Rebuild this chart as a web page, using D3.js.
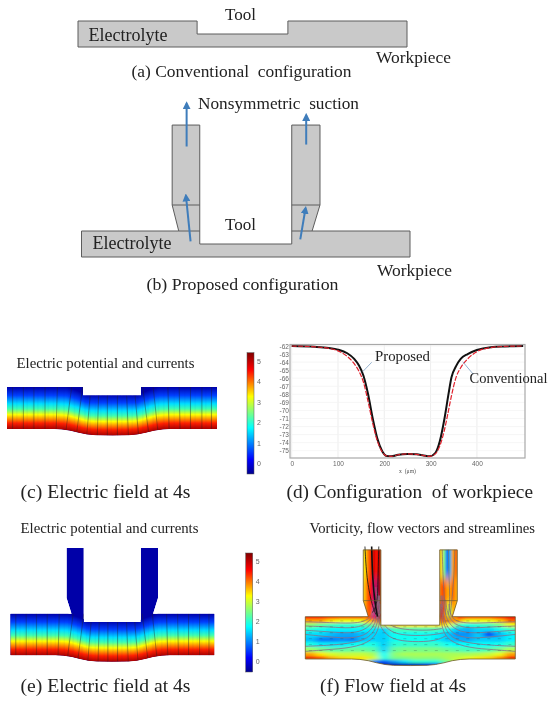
<!DOCTYPE html>
<html>
<head>
<meta charset="utf-8">
<script src="https://cdn.jsdelivr.net/npm/d3@7"></script>
<style>
body { margin: 0; background: #fff; }
svg { display: block; filter: blur(0.35px); }
text { font-family: "Liberation Serif", serif; fill: #222; }
.small text { font-family: "Liberation Sans", sans-serif; fill: #666; }
</style>
</head>
<body>
<svg width="552" height="702"></svg>
<script>
// workpiece profile, panel (d)
var xTicks = [0, 100, 200, 300, 400];
var yTicks = [-62, -63, -64, -65, -66, -67, -68, -69, -70, -71, -72, -73, -74, -75];
var profileX = [0, 50, 80, 100, 120, 135, 145, 155, 165, 175, 185, 195, 205, 215, 230, 250, 270, 285, 298, 310, 320, 330, 338, 345, 355, 365, 380, 400, 430, 460, 500];
var proposedY = [-62, -62.1, -62.25, -62.45, -62.9, -63.6, -64.4, -65.7, -68, -71, -73.5, -75, -75.65, -75.7, -75.5, -75.4, -75.45, -75.6, -75.7, -75.3, -73.8, -71, -68.2, -65.9, -64.5, -63.6, -63, -62.5, -62.15, -62.05, -62];
var conventionalY = [-62, -62.1, -62.3, -62.6, -63.3, -64.2, -65.1, -66.5, -68.9, -71.6, -73.8, -75.1, -75.65, -75.7, -75.5, -75.4, -75.45, -75.6, -75.7, -75.4, -74.4, -72.4, -70.2, -68.2, -65.9, -64.7, -63.6, -62.7, -62.2, -62.05, -62];

// geometry of the cell in um, x along the workpiece, y above the flat workpiece
var conventionalCell = [[0, 0], [0, 40], [181, 40], [181, 20], [319, 20], [319, 40], [500, 40], [500, 0]];
var proposedCell = [[0, 0], [0, 40], [148, 40], [138, 80], [138, 203], [180, 203], [180, 20], [320, 20], [320, 203], [363, 203], [363, 80], [351, 40], [500, 40], [500, 0]];
var proposedSeams = [[[138, 80], [180, 80]], [[148, 40], [180, 40]], [[320, 80], [363, 80]], [[320, 40], [351, 40]]];
var suctionArrows = [[[160, 170], [160, 236]], [[342, 173], [342, 218]], [[166, 24], [159, 94]], [[333, 27], [341, 75]]];

var dipX = [0, 110, 130, 150, 170, 190, 210, 250, 290, 310, 330, 350, 370, 390, 500];
var dipY = [0, 0, -1, -4, -9, -13, -15, -15.5, -15, -13, -9, -4, -1, 0, 0];
var isoTopX = [0, 140, 165, 190, 310, 335, 360, 500];
var isoTopY = [100, 100, 92, 82, 82, 92, 100, 100];
var notchX = [181, 319];
var notchY = 80;
var nozzleTopY = 258;
var nozzleFlareY = 138;
var nozzleX = [138, 180, 320, 362];
var flareFootX = [150, 350];
var currentTopX = [13.5, 39, 64, 90.5, 120, 154, 180, 198, 218, 239, 263, 285, 305, 323, 348, 383, 410, 437, 464, 487];
var currentBottomX = [13.5, 39, 64, 90.5, 117, 140.5, 166, 190, 215, 239, 263, 289, 313, 337, 359, 386, 412, 437, 464, 487];

// colorbar
var potentialTicks = [0, 1, 2, 3, 4, 5];
var potentialDomain = [-0.52, 5.4];
var jetStops = [0, 0.12, 0.38, 0.64, 0.86, 1, 1.1];
var jetColors = ["#00008f", "#0000ff", "#00ffff", "#ffff00", "#ff0000", "#800000", "#ff20c0"];
var fieldStops = [0, 0.2, 0.4, 0.52, 0.66, 0.86, 1];
var fieldColors = ["#0000a8", "#0040ff", "#00e0ff", "#40ffb0", "#ffff00", "#ff2000", "#a80000"];

// vorticity, panel (f): one row per band, twenty columns of 25 um
var vortRowEdges = [106, 95, 85, 75, 64, 52, 40, 28, 16, 6, -2, -10, -18];
var vortColEdges = d3.range(0, 525, 25);
var vorticity = [
    [.85, .85, .82, .8, .8, .8, .85, .92, .7, .7, .7, .7, .7, .92, .85, .8, .8, .8, .85, .88],
    [.72, .72, .66, .62, .62, .62, .65, .85, .68, .68, .68, .68, .68, .85, .72, .62, .62, .62, .68, .78],
    [.52, .47, .44, .42, .42, .44, .47, .6, .68, .66, .66, .66, .66, .62, .44, .4, .42, .44, .5, .62],
    [.42, .39, .37, .37, .37, .37, .36, .33, .45, .45, .45, .45, .45, .39, .32, .3, .34, .34, .39, .44],
    [.35, .34, .31, .29, .29, .32, .34, .33, .39, .39, .39, .39, .37, .33, .27, .27, .33, .18, .31, .37],
    [.32, .25, .25, .27, .25, .32, .34, .33, .39, .39, .39, .39, .37, .33, .3, .29, .33, .33, .33, .37],
    [.4, .36, .36, .36, .38, .4, .4, .33, .42, .43, .43, .43, .43, .39, .38, .38, .38, .38, .39, .43],
    [.54, .5, .47, .47, .48, .48, .46, .34, .48, .5, .5, .5, .5, .48, .46, .44, .44, .46, .5, .56],
    [.72, .66, .6, .58, .58, .58, .55, .38, .52, .55, .55, .55, .55, .55, .55, .55, .56, .58, .62, .72],
    [.88, .82, .72, .68, .66, .66, .6, .4, .5, .5, .52, .52, .52, .55, .58, .62, .66, .68, .75, .88],
    [.66, .66, .66, .66, .66, .6, .25, .2, .28, .35, .42, .42, .42, .5, .6, .66, .66, .66, .66, .66],
    [.6, .6, .6, .6, .6, .45, .06, .04, .04, .04, .04, .08, .15, .38, .55, .6, .6, .6, .6, .6]
];
var nozzleRowEdges = [290, 190, 130, 94];
var leftNozzleEdges = [138, 145, 152, 159, 166, 173, 180];
var rightNozzleEdges = [320, 327, 334, 341, 348, 355, 362];
var leftNozzleVort = [[.66, .75, .82, .92, .85, .95], [.7, .78, .85, 1.05, 1.05, .98], [.72, .78, .8, 1.08, 1.05, .98]];
var rightNozzleVort = [[.68, .5, .22, .3, .72, .78], [.78, .8, .72, .72, .78, .72], [.88, .8, .6, .55, .7, .7]];

var streamlines = [
    [[0, 88], [60, 86], [110, 84], [140, 88], [158, 100], [165, 130]],
    [[0, 78], [60, 76], [110, 72], [145, 80], [165, 105], [170, 140]],
    [[0, 68], [60, 64], [110, 60], [148, 70], [170, 100], [172, 150]],
    [[0, 58], [60, 52], [110, 48], [150, 58], [172, 90], [175, 150]],
    [[0, 30], [50, 32], [100, 36], [150, 46], [175, 80], [177, 150]],
    [[0, 18], [50, 22], [110, 26], [160, 42], [178, 75], [178, 130]],
    [[325, 72], [300, 68], [260, 68], [215, 72], [190, 88], [176, 110], [172, 160]],
    [[330, 62], [300, 56], [250, 55], [210, 60], [185, 80], [172, 115], [168, 170]],
    [[335, 55], [310, 42], [255, 40], [205, 46], [180, 70], [168, 110], [163, 170]],
    [[500, 88], [440, 86], [390, 84], [362, 88], [345, 100], [342, 130]],
    [[500, 78], [440, 76], [390, 72], [355, 80], [338, 105], [334, 140]],
    [[500, 68], [440, 64], [390, 60], [352, 70], [332, 100], [328, 150]],
    [[500, 58], [440, 52], [390, 48], [350, 58], [328, 90], [325, 150]],
    [[500, 30], [450, 32], [400, 36], [350, 46], [326, 80], [323, 150]],
    [[500, 18], [450, 22], [390, 26], [340, 42], [323, 75], [322, 130]]
];
var leftJets = [
    [[142, 266], [146, 190], [158, 130], [168, 105]],
    [[158, 266], [160, 190], [166, 130], [172, 100]],
    [[175, 266], [173, 190], [172, 130], [160, 110]]
];
var rightJets = [
    [[326, 258], [328, 190], [332, 130], [335, 105]],
    [[341, 258], [342, 190], [345, 130], [340, 105]],
    [[356, 258], [354, 190], [348, 130], [345, 105]]
];
var vectorRows = [90, 76, 62, 48, 34, 20];
var vectorCols = d3.range(12, 500, 25);

var svg = d3.select("svg");

function label(str, x, y, width, size) {
    return svg.append("text")
        .attr("x", x).attr("y", y)
        .attr("textLength", width).attr("lengthAdjust", "spacingAndGlyphs")
        .style("font-size", size + "px")
        .style("white-space", "pre")
        .text(str);
}

var jet = d3.scaleLinear().domain(jetStops).range(jetColors);

// panel (a)
(function () {
    var x = d3.scaleLinear().domain([0, 500]).range([78, 407]);
    var y = d3.scaleLinear().domain([0, 40]).range([47, 21]);
    svg.append("path")
        .attr("d", d3.line().x(function (d) { return x(d[0]); }).y(function (d) { return y(d[1]); })(conventionalCell) + "Z")
        .style("fill", "#c9c9c9").style("stroke", "#5c5c5c").style("stroke-width", 1);
})();

// panel (b)
(function () {
    var x = d3.scaleLinear().domain([0, 500]).range([81.5, 410]);
    var y = d3.scaleLinear().domain([0, 40]).range([257, 231]);
    var line = d3.line().x(function (d) { return x(d[0]); }).y(function (d) { return y(d[1]); });
    svg.append("path").attr("d", line(proposedCell) + "Z")
        .style("fill", "#c9c9c9").style("stroke", "#5c5c5c").style("stroke-width", 1);
    svg.selectAll(".seam").data(proposedSeams).enter().append("path")
        .attr("class", "seam").attr("d", line)
        .style("stroke", "#5c5c5c").style("fill", "none");

    var defs = svg.append("defs");
    defs.append("marker").attr("id", "head")
        .attr("viewBox", "0 0 10 10").attr("refX", 7).attr("refY", 5)
        .attr("markerWidth", 4).attr("markerHeight", 4).attr("orient", "auto")
        .append("path").attr("d", "M0,0L10,5L0,10Z").style("fill", "#3f7dbb");
    svg.selectAll(".arrow").data(suctionArrows).enter().append("path")
        .attr("class", "arrow").attr("d", line)
        .attr("marker-end", "url(#head)")
        .style("stroke", "#3f7dbb").style("stroke-width", 2).style("fill", "none");
})();

label("Tool", 225, 20, 31, 17);
label("Electrolyte", 88.5, 41, 79, 18);
label("Workpiece", 376, 63, 75, 17);
label("(a) Conventional  configuration", 131.5, 77, 220, 17.5);
label("Nonsymmetric  suction", 198, 109, 161, 17);
label("Tool", 225, 230, 31, 17);
label("Electrolyte", 92.5, 249, 79, 18);
label("Workpiece", 377, 276, 75, 17);
label("(b) Proposed configuration", 146.5, 290, 192, 17.5);

// gradient shared by the potential strips
var gradient = svg.append("defs").append("linearGradient")
    .attr("id", "jetv").attr("x1", 0).attr("y1", 0).attr("x2", 0).attr("y2", 1);
fieldStops.forEach(function (s, i) {
    gradient.append("stop").attr("offset", s).attr("stop-color", fieldColors[i]);
});

function cellOutline(withNozzles) {
    var top = withNozzles ?
        [[0, 100], [flareFootX[0], 100], [nozzleX[0], nozzleFlareY], [nozzleX[0], nozzleTopY], [nozzleX[1], nozzleTopY], [nozzleX[1], notchY],
            [nozzleX[2], notchY], [nozzleX[2], nozzleTopY], [nozzleX[3], nozzleTopY], [nozzleX[3], nozzleFlareY], [flareFootX[1], 100], [500, 100]] :
        [[0, 100], [notchX[0], 100], [notchX[0], notchY], [notchX[1], notchY], [notchX[1], 100], [500, 100]];
    var bottom = dipX.map(function (d, i) { return [d, dipY[i]]; }).reverse();
    return top.concat(bottom);
}

var dipAt = d3.scaleLinear().domain(dipX).range(dipY);
var isoTopAt = d3.scaleLinear().domain(isoTopX).range(isoTopY);

function potentialPanel(id, xRange, yRange, withNozzles) {
    var x = d3.scaleLinear().domain([0, 500]).range(xRange);
    var y = d3.scaleLinear().domain([0, 100]).range(yRange);
    var line = d3.line().x(function (d) { return x(d[0]); }).y(function (d) { return y(d[1]); });
    var outline = line(cellOutline(withNozzles)) + "Z";
    svg.append("clipPath").attr("id", id).append("path").attr("d", outline);
    var g = svg.append("g").attr("clip-path", "url(#" + id + ")");
    g.append("path").attr("d", outline).style("fill", "#0000a8");
    g.selectAll("rect").data(d3.range(0, 500, 2)).enter().append("rect")
        .attr("x", function (d) { return x(d); })
        .attr("width", x(2) - x(0) + 0.6)
        .attr("y", function (d) { return y(isoTopAt(d)); })
        .attr("height", function (d) { return y(dipAt(d)) - y(isoTopAt(d)); })
        .style("fill", "url(#jetv)");
    g.selectAll(".current").data(currentTopX).enter().append("line")
        .attr("class", "current")
        .attr("x1", function (d) { return x(d); })
        .attr("y1", function (d) { return y(d > notchX[0] && d < notchX[1] ? notchY : 100); })
        .attr("x2", function (d, i) { return x(currentBottomX[i]); })
        .attr("y2", function (d, i) { return y(dipAt(currentBottomX[i])); })
        .style("stroke", "#222").style("stroke-width", 0.6).style("stroke-opacity", 0.65);
}

function colorbar(x0, x1, yRange) {
    var y = d3.scaleLinear().domain(potentialDomain).range(yRange);
    svg.append("rect")
        .attr("x", x0).attr("width", x1 - x0)
        .attr("y", yRange[1]).attr("height", yRange[0] - yRange[1])
        .style("fill", "url(#barv)").style("stroke", "#555").style("stroke-width", 0.5);
    var axis = svg.append("g").attr("class", "small")
        .attr("transform", "translate(" + x1 + ",0)")
        .call(d3.axisRight(y).tickValues(potentialTicks).tickSize(0).tickPadding(3).tickFormat(String));
    axis.select(".domain").remove();
    axis.selectAll("text").style("font-size", "7px");
}

var barGradient = svg.append("defs").append("linearGradient")
    .attr("id", "barv").attr("x1", 0).attr("y1", 1).attr("x2", 0).attr("y2", 0);
jetStops.slice(0, 6).forEach(function (s, i) {
    barGradient.append("stop").attr("offset", s).attr("stop-color", jetColors[i]);
});

potentialPanel("clipc", [7, 217], [429, 387], false);
colorbar(247, 254, [474, 352.7]);
label("Electric potential and currents", 16.5, 368, 178, 14.5);
label("(c) Electric field at 4s", 20.5, 498, 170, 18);

potentialPanel("clipe", [10.3, 214.3], [655.3, 613.7], true);
colorbar(245.7, 252.7, [672, 553]);
label("Electric potential and currents", 20.5, 532.5, 178, 14.5);
label("(e) Electric field at 4s", 20.5, 691.5, 170, 18);

// panel (d)
(function () {
    var x = d3.scaleLinear().domain([0, 500]).range([291.7, 523.2]);
    var y = d3.scaleLinear().domain([-62, -75]).range([346, 450.7]);
    var left = 290, right = 525, top = 344.5, bottom = 458;
    svg.append("g").selectAll("line").data(xTicks).enter().append("line")
        .attr("x1", x).attr("x2", x).attr("y1", top).attr("y2", bottom)
        .style("stroke", "#e8e8e8").style("stroke-width", 0.8);
    svg.append("g").selectAll("line").data(yTicks).enter().append("line")
        .attr("x1", left).attr("x2", right).attr("y1", y).attr("y2", y)
        .style("stroke", "#f4f4f4").style("stroke-width", 0.8);
    var xAxis = svg.append("g").attr("class", "small")
        .attr("transform", "translate(0," + bottom + ")")
        .call(d3.axisBottom(x).tickValues(xTicks).tickSize(0).tickPadding(3).tickFormat(String));
    xAxis.select(".domain").remove();
    xAxis.selectAll("text").style("font-size", "6.5px");
    var yAxis = svg.append("g").attr("class", "small")
        .attr("transform", "translate(" + left + ",0)")
        .call(d3.axisLeft(y).tickValues(yTicks).tickSize(0).tickPadding(1).tickFormat(String));
    yAxis.select(".domain").remove();
    yAxis.selectAll("text").style("font-size", "6.5px");

    var curve = d3.line().curve(d3.curveMonotoneX)
        .x(function (d) { return x(d[0]); })
        .y(function (d) { return y(d[1]); });
    svg.append("path")
        .attr("d", curve(profileX.map(function (d, i) { return [d, proposedY[i]]; })))
        .style("fill", "none").style("stroke", "#111").style("stroke-width", 2);
    svg.append("path")
        .attr("d", curve(profileX.map(function (d, i) { return [d, conventionalY[i]]; })))
        .style("fill", "none").style("stroke", "#e0202c").style("stroke-width", 1.2).style("stroke-dasharray", "5,1.5");
    svg.append("rect")
        .attr("x", left).attr("y", top).attr("width", right - left).attr("height", bottom - top)
        .style("fill", "none").style("stroke", "#a8a8a8").style("stroke-width", 1.2);

    svg.append("line").attr("x1", 371.7).attr("y1", 362.3).attr("x2", 362.7).attr("y2", 371.7)
        .style("stroke", "#7d9fc4").style("stroke-width", 0.8);
    svg.append("line").attr("x1", 473.3).attr("y1", 374.3).attr("x2", 462.7).attr("y2", 361.7)
        .style("stroke", "#7d9fc4").style("stroke-width", 0.8);
})();
label("x  (\u03bcm)", 399, 473, 17, 6.5).style("fill", "#555");
label("Proposed", 375, 360.5, 55, 15);
label("Conventional", 469.5, 383, 78, 15);
label("(d) Configuration  of workpiece", 286.5, 498, 246.5, 18);

// panel (f)
(function () {
    var x = d3.scaleLinear().domain([0, 500]).range([305.3, 515.3]);
    var y = d3.scaleLinear().domain([0, 100]).range([659, 616.7]);
    var line = d3.line().x(function (d) { return x(d[0]); }).y(function (d) { return y(d[1]); });
    var outline = line(cellOutline(true)) + "Z";
    svg.append("clipPath").attr("id", "clipf").append("path").attr("d", outline);
    var defs = svg.append("defs");
    defs.append("filter").attr("id", "blurbox")
        .attr("x", "-10%").attr("y", "-10%").attr("width", "120%").attr("height", "120%")
        .append("feGaussianBlur").attr("stdDeviation", "3.5 0.9");
    defs.append("filter").attr("id", "blurnoz")
        .attr("x", "-20%").attr("y", "-10%").attr("width", "140%").attr("height", "120%")
        .append("feGaussianBlur").attr("stdDeviation", "1 4");

    var g = svg.append("g").attr("clip-path", "url(#clipf)");
    g.append("path").attr("d", outline).style("fill", "#e8d840");
    var box = g.append("g").attr("filter", "url(#blurbox)");
    vorticity.forEach(function (row, r) {
        box.selectAll(".r" + r).data(row).enter().append("rect")
            .attr("class", "r" + r)
            .attr("x", function (d, i) { return x(i == 0 ? -40 : vortColEdges[i]); })
            .attr("width", function (d, i) {
                return x(i == row.length - 1 ? 540 : vortColEdges[i + 1]) - x(i == 0 ? -40 : vortColEdges[i]);
            })
            .attr("y", y(vortRowEdges[r]))
            .attr("height", y(vortRowEdges[r + 1]) - y(vortRowEdges[r]) + 0.4)
            .style("fill", function (d) { return jet(d); });
    });

    function nozzle(edges, rows) {
        var n = g.append("g").attr("filter", "url(#blurnoz)");
        rows.forEach(function (row, r) {
            n.selectAll(".r" + r).data(row).enter().append("rect")
                .attr("class", "r" + r)
                .attr("x", function (d, i) { return x(edges[i]); })
                .attr("width", x(edges[1]) - x(edges[0]) + 0.4)
                .attr("y", y(nozzleRowEdges[r]))
                .attr("height", y(nozzleRowEdges[r + 1]) - y(nozzleRowEdges[r]))
                .style("fill", function (d) { return jet(d); });
        });
    }
    nozzle(leftNozzleEdges, leftNozzleVort);
    nozzle(rightNozzleEdges, rightNozzleVort);

    var smooth = d3.line().curve(d3.curveBasis).x(function (d) { return x(d[0]); }).y(function (d) { return y(d[1]); });
    g.selectAll(".stream").data(streamlines).enter().append("path")
        .attr("class", "stream").attr("d", smooth)
        .style("fill", "none").style("stroke", "#8a6f86").style("stroke-width", 0.8);

    vectorRows.forEach(function (r) {
        g.selectAll(".v" + r).data(vectorCols).enter().append("line")
            .attr("class", "v" + r)
            .attr("x1", function (d) { return x(d) - 1.5; })
            .attr("x2", function (d) { return x(d) + 1.5; })
            .attr("y1", y(r)).attr("y2", y(r))
            .style("stroke", "#333").style("stroke-width", 0.6).style("stroke-opacity", 0.4);
    });

    svg.append("g").selectAll("path").data(leftJets).enter().append("path")
        .attr("d", smooth)
        .style("fill", "none").style("stroke", "#111").style("stroke-width", function (d, i) { return i == 1 ? 1.6 : 0.8; });
    svg.append("g").selectAll("path").data(rightJets).enter().append("path")
        .attr("d", smooth)
        .style("fill", "none").style("stroke", "#7b6a70").style("stroke-width", 0.7);

    svg.append("path").attr("d", outline)
        .style("fill", "none").style("stroke", "#6f5a30").style("stroke-width", 0.8);
    svg.append("g").selectAll("line").data([[nozzleX[0], nozzleX[1]], [nozzleX[2], nozzleX[3]]]).enter().append("line")
        .attr("x1", function (d) { return x(d[0]); })
        .attr("x2", function (d) { return x(d[1]); })
        .attr("y1", y(nozzleFlareY)).attr("y2", y(nozzleFlareY))
        .style("stroke", "#6f5a30").style("stroke-width", 0.7);
})();
label("Vorticity, flow vectors and streamlines", 309.5, 533, 225.5, 14.5);
label("(f) Flow field at 4s", 320, 691.5, 146, 18);
</script>
</body>
</html>
